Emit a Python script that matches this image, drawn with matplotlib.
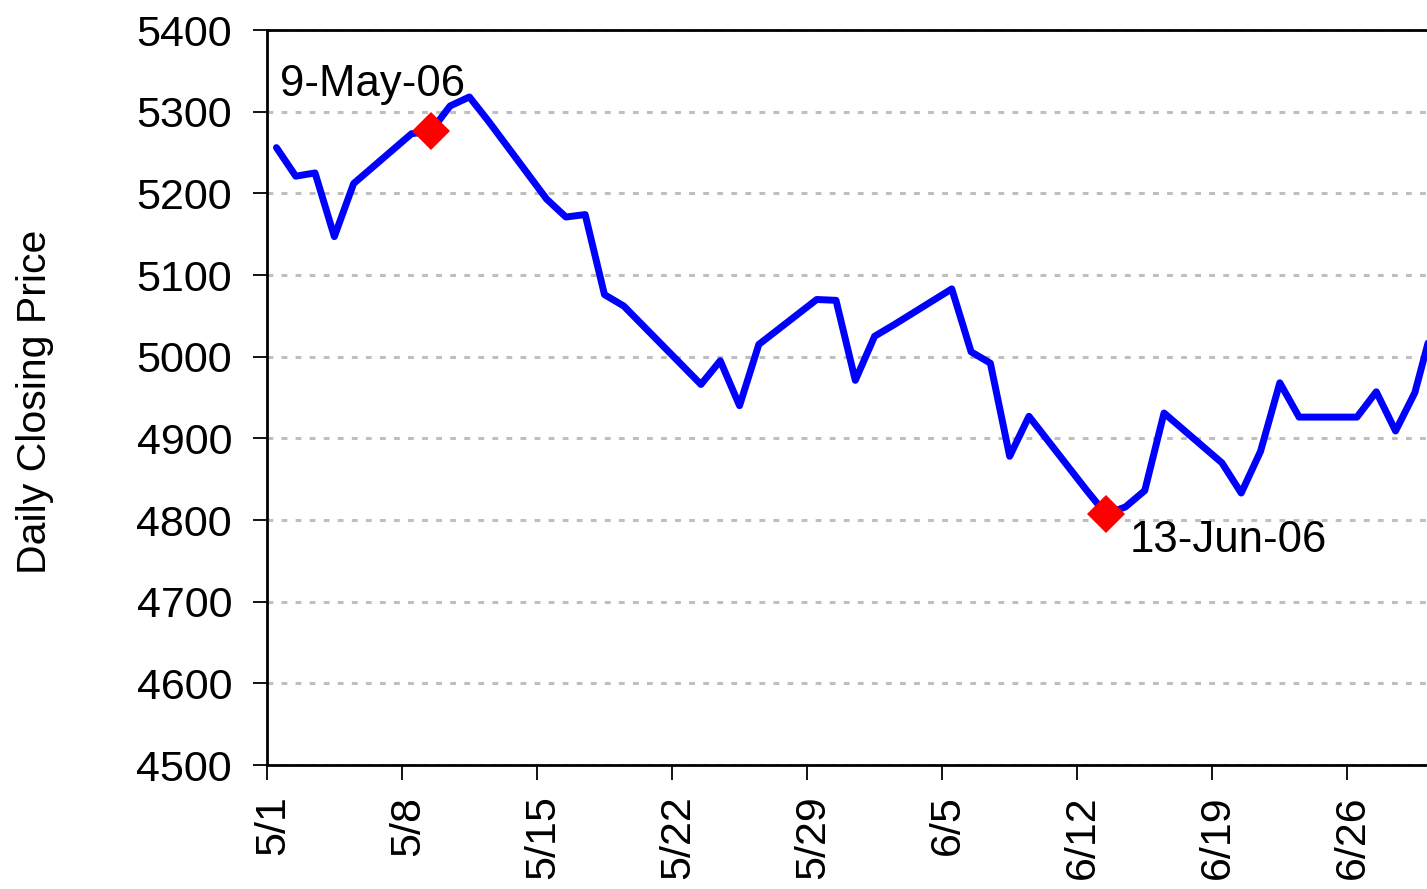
import matplotlib
matplotlib.use("Agg")
import matplotlib.pyplot as plt
import matplotlib.dates as mdates
import matplotlib.ticker as mticker
import matplotlib.transforms as mtransforms
import pandas as pd

plt.rcParams["font.family"] = ["Liberation Sans", "DejaVu Sans"]

# daily closes, May-June 2006
dates = [
    "2006-05-01", "2006-05-02", "2006-05-03", "2006-05-04", "2006-05-05",
    "2006-05-08", "2006-05-09", "2006-05-10", "2006-05-11", "2006-05-12",
    "2006-05-15", "2006-05-16", "2006-05-17", "2006-05-18", "2006-05-19",
    "2006-05-22", "2006-05-23", "2006-05-24", "2006-05-25", "2006-05-26",
    "2006-05-29", "2006-05-30", "2006-05-31", "2006-06-01", "2006-06-02",
    "2006-06-05", "2006-06-06", "2006-06-07", "2006-06-08", "2006-06-09",
    "2006-06-12", "2006-06-13", "2006-06-14", "2006-06-15", "2006-06-16",
    "2006-06-19", "2006-06-20", "2006-06-21", "2006-06-22", "2006-06-23",
    "2006-06-26", "2006-06-27", "2006-06-28", "2006-06-29", "2006-06-30",
]
closes = [
    5256, 5221, 5225, 5147, 5212,
    5273, 5276, 5307, 5318, 5288,
    5193, 5171, 5174, 5076, 5062,
    4990, 4966, 4995, 4940, 5015,
    5070, 5069, 4971, 5025, 5039,
    5083, 5006, 4992, 4878, 4927,
    4836, 4807, 4816, 4836, 4931,
    4870, 4833, 4884, 4968, 4926,
    4926, 4957, 4909, 4956, 5045,
]
highlight_dates = ["2006-05-09", "2006-06-13"]
# text offsets in pixels from each highlighted point
label_offsets = [(-151, 35), (23, -38)]

y_ticks = [4500, 4600, 4700, 4800, 4900, 5000, 5100, 5200, 5300, 5400]

s = pd.Series(closes, index=pd.to_datetime(dates))
# points sit in the middle of their day
half_day = pd.Timedelta(hours=12)

fig = plt.figure(figsize=(14.27, 8.89), dpi=100)
ax = fig.add_axes([0.18697, 0.13948, 0.82481, 0.82677])

ax.plot(s.index + half_day, s.values, color="#0000ff", lw=5.0,
        solid_joinstyle="round", solid_capstyle="round", zorder=3)

for d, (dx, dy) in zip(highlight_dates, label_offsets):
    t = pd.Timestamp(d)
    v = s[t]
    ax.plot([t + half_day], [v], marker="D", ms=19, color="#ff0000",
            mew=0, ls="none", zorder=4)
    ax.annotate(f"{t.day}-{t.strftime('%b')}-{t.strftime('%y')}",
                xy=(t + half_day, v), xytext=(dx, dy),
                textcoords="offset pixels", ha="left", va="baseline",
                fontsize=31.5, color="black", zorder=5)

ax.set_xlim(pd.Timestamp("2006-05-01"), pd.Timestamp("2006-07-01"))
ax.set_ylim(4500, 5400)
ax.set_yticks(y_ticks)

ax.xaxis.set_major_locator(mdates.WeekdayLocator(byweekday=mdates.MO))
ax.xaxis.set_major_formatter(
    mticker.FuncFormatter(lambda x, pos: f"{mdates.num2date(x).month}/{mdates.num2date(x).day}"))

ax.grid(axis="y", color="#bfbfbf", lw=2.2, linestyle=(0, (1.9, 2.7)))
ax.set_axisbelow(True)

for side in ["left", "bottom", "top"]:
    ax.spines[side].set_linewidth(2.0)
    ax.spines[side].set_color("black")
ax.spines["right"].set_visible(False)

ax.tick_params(axis="y", direction="out", length=10, width=1.3, pad=15, labelsize=31)
ax.tick_params(axis="x", direction="out", length=11, width=1.3, pad=11, labelsize=31)
shift = mtransforms.ScaledTranslation(6 / 100, 0, fig.dpi_scale_trans)
for lbl in ax.get_xticklabels():
    lbl.set_rotation(90)
    lbl.set_va("top")
    lbl.set_ha("center")
    lbl.set_transform(lbl.get_transform() + shift)

fig.text(35 / 1427, 0.5478, "Daily Closing Price", rotation=90,
         ha="center", va="center", fontsize=29.5)

fig.savefig("out.png", dpi=100)
